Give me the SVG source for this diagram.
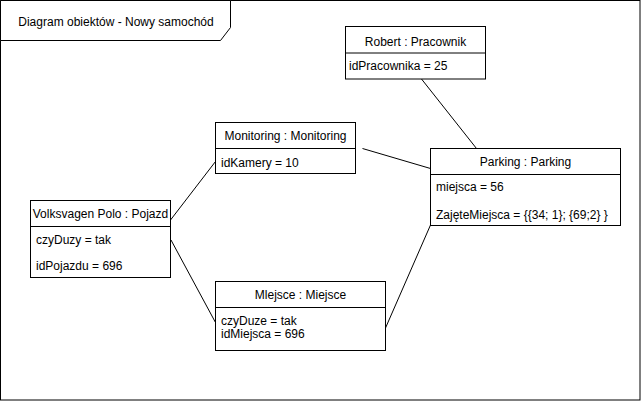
<svg xmlns="http://www.w3.org/2000/svg" width="641" height="401" viewBox="0 0 641 401">
<style>
  .box { fill: #ffffff; stroke: #000000; stroke-width: 1; }
  .div { stroke: #000000; stroke-width: 1; fill: none; }
  .edge { stroke: #000000; stroke-width: 1; fill: none; }
  text { font-family: "Liberation Sans", Arial, Helvetica, sans-serif; font-size: 12px; fill: #000000; }
  .c { text-anchor: middle; }
</style>
<rect x="0" y="0" width="641" height="401" fill="#ffffff"/>
<g id="frame">
  <rect x="0.5" y="0.5" width="639.5" height="399.5" class="box"/>
  <polygon points="0.5,0.5 230.5,0.5 230.5,27.5 220.5,40.5 0.5,40.5" class="box"/>
  <text x="116" y="26" class="c">Diagram obiektów - Nowy samochód</text>
</g>
<g id="connectors">
  <line x1="170.5" y1="220" x2="215.5" y2="161.5" class="edge"/>
  <line x1="171" y1="240" x2="215.5" y2="322.5" class="edge"/>
  <line x1="362.5" y1="148.5" x2="430.5" y2="168.5" class="edge"/>
  <line x1="421.5" y1="79" x2="476.5" y2="148.5" class="edge"/>
  <line x1="385.5" y1="328" x2="430.5" y2="225" class="edge"/>
</g>
<g id="robert">
  <rect x="345.5" y="26.5" width="140" height="52.5" class="box"/>
  <line x1="345.5" y1="53" x2="485.5" y2="53" class="div"/>
  <text x="415.5" y="45.5" class="c">Robert : Pracownik</text>
  <text x="349" y="70">idPracownika = 25</text>
</g>
<g id="monitoring">
  <rect x="215.5" y="122.5" width="140" height="51" class="box"/>
  <line x1="215.5" y1="148.5" x2="355.5" y2="148.5" class="div"/>
  <text x="285.5" y="140" class="c">Monitoring : Monitoring</text>
  <text x="221" y="166.5">idKamery = 10</text>
</g>
<g id="parking">
  <rect x="430.5" y="148.5" width="190" height="77" class="box"/>
  <line x1="430.5" y1="174.5" x2="620.5" y2="174.5" class="div"/>
  <text x="525.5" y="166" class="c">Parking : Parking</text>
  <text x="436" y="191">miejsca = 56</text>
  <text x="436" y="219">ZajęteMiejsca = {{34; 1}; {69;2} }</text>
</g>
<g id="pojazd">
  <rect x="30.5" y="200.5" width="140" height="77" class="box"/>
  <line x1="30.5" y1="226.5" x2="170.5" y2="226.5" class="div"/>
  <text x="100.5" y="217.5" class="c">Volksvagen Polo : Pojazd</text>
  <text x="36" y="244">czyDuzy = tak</text>
  <text x="36" y="270">idPojazdu = 696</text>
</g>
<g id="miejsce">
  <rect x="215.5" y="281.5" width="170" height="69" class="box"/>
  <line x1="215.5" y1="307.5" x2="385.5" y2="307.5" class="div"/>
  <text x="300.5" y="299" class="c">Mlejsce : Miejsce</text>
  <text x="221" y="324.5">czyDuze = tak</text>
  <text x="221" y="338">idMiejsca = 696</text>
</g>
</svg>
